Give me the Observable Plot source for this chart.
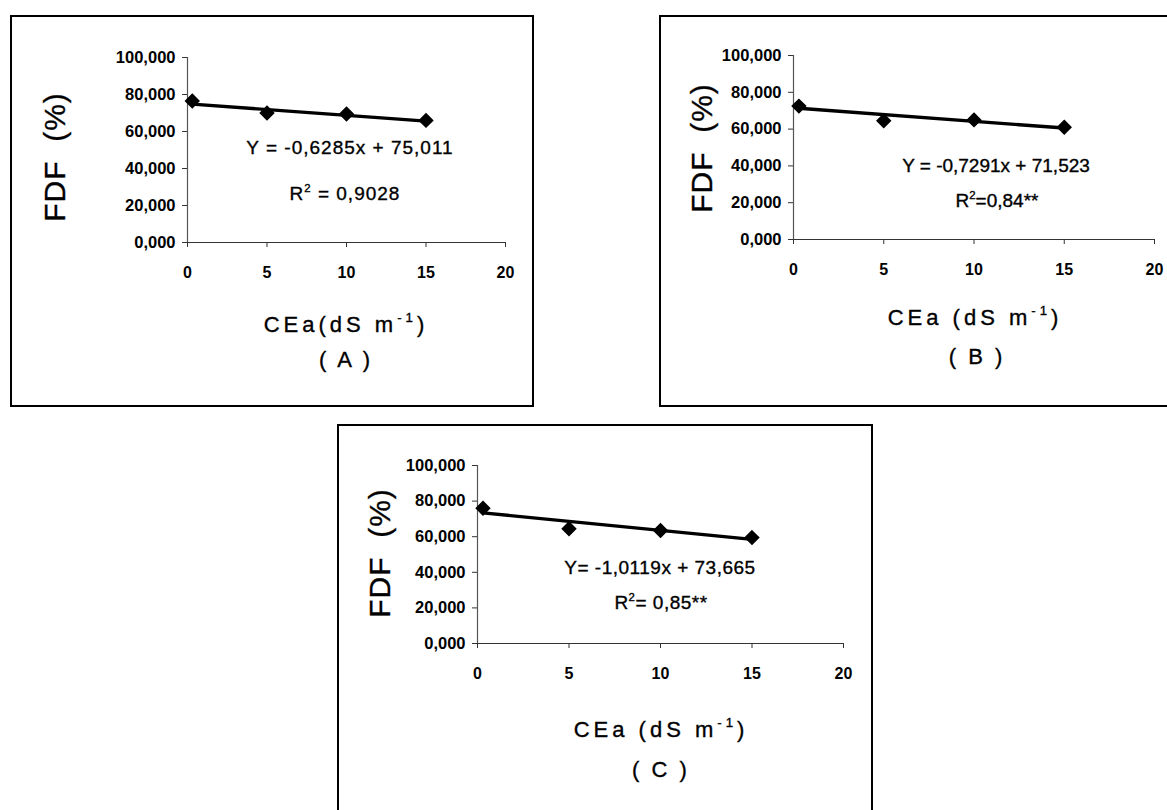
<!DOCTYPE html>
<html><head><meta charset="utf-8">
<script src="https://cdn.jsdelivr.net/npm/d3@7"></script>
<script src="https://cdn.jsdelivr.net/npm/@observablehq/plot@0.6"></script>
<style>
html,body{margin:0;padding:0;background:#fff}
body{width:1167px;height:810px;position:relative;overflow:hidden;font-family:"Liberation Sans",Arial,sans-serif;color:#000}
.box{position:absolute;box-sizing:border-box;border:2px solid #000}
.plot{position:absolute}
.lbl{position:absolute;white-space:nowrap;transform:translate(-50%,-50%);line-height:1;-webkit-text-stroke:0.35px #000}
.rot{transform:translate(-50%,-50%) rotate(-90deg)}
sup{font-size:0.6em;line-height:0;position:relative;top:-0.1em;vertical-align:super}
</style></head><body>
<script>
// ---- data ----
const ceaX = [0.3, 5, 10, 15];                 // CEa (dS m-1)
const fdfA = [76.5, 70, 69.5, 66];             // FDF (%) panel A
const fdfB = [72.5, 64.5, 65, 61];             // FDF (%) panel B
const fdfC = [76, 64.5, 63.5, 59.5];           // FDF (%) panel C
const panelNames = ["A", "B", "C"];
const slopes = [-0.6285, -0.7291, -1.0119];
const intercepts = [75.011, 71.523, 73.665];
const eqLabels = ["Y = -0,6285x + 75,011", "Y = -0,7291x + 71,523", "Y= -1,0119x + 73,665"];
const r2Labels = [" = 0,9028", "=0,84**", "= 0,85**"];
const xTicks = [0, 5, 10, 15, 20];
const yTicks = [0, 20, 40, 60, 80, 100];
const series = [fdfA, fdfB, fdfC];

// ---- layout (page positions) ----
const layout = [
  {box:{l:10,t:15,w:524,h:392}, svg:{h:392,ml:177,mr:29,mt:42,mb:165},
   fdf:[55,157], eq:[350,147], r2:[345,193], cea:[346,325], let:[346,360], eqSize:19, eqLs:1},
  {box:{l:659,t:15,w:508,h:392,noRight:true}, svg:{h:392,ml:134,mr:13,mt:40,mb:168},
   fdf:[702,148], eq:[996,165], r2:[997,200], cea:[975,318], let:[977,357], eqSize:19, eqLs:0},
  {box:{l:337,t:424,w:536,h:400,noBottom:true}, svg:{h:386,ml:140,mr:30,mt:41,mb:167},
   fdf:[380,553], eq:[660,567], r2:[661,602], cea:[661,730], let:[661,770], eqSize:19, eqLs:0.5}
];

const fmtY = d => d.toFixed(3).replace(".", ",");

function addLabel(html, pos, style, cls) {
  const d = document.createElement("div");
  d.className = "lbl" + (cls ? " " + cls : "");
  d.innerHTML = html;
  d.style.left = pos[0] + "px";
  d.style.top = pos[1] + "px";
  Object.assign(d.style, style || {});
  document.body.appendChild(d);
}

layout.forEach((L, i) => {
  const box = document.createElement("div");
  box.className = "box";
  Object.assign(box.style, {left: L.box.l + "px", top: L.box.t + "px", width: L.box.w + "px", height: L.box.h + "px"});
  if (L.box.noRight) box.style.borderRight = "none";
  if (L.box.noBottom) box.style.borderBottom = "none";
  document.body.appendChild(box);

  const pts = ceaX.map((x, j) => ({x, y: series[i][j]}));
  const ends = [ceaX[0], ceaX[ceaX.length - 1]].map(x => ({x, y: slopes[i] * x + intercepts[i]}));

  const chart = Plot.plot({
    width: L.box.w, height: L.svg.h,
    marginLeft: L.svg.ml, marginRight: L.svg.mr, marginTop: L.svg.mt, marginBottom: L.svg.mb,
    style: {fontFamily: '"Liberation Sans", Arial, sans-serif', color: "#000", background: "transparent", overflow: "visible"},
    x: {domain: [0, 20], label: null},
    y: {domain: [0, 100], label: null},
    marks: [
      Plot.axisX(xTicks, {tickSize: 5, tickPadding: 19, fontSize: 16, fontWeight: "bold", tickFormat: d => String(d), stroke: "#333", label: null}),
      Plot.axisY(yTicks, {tickSize: 5, tickPadding: 7, fontSize: 16.5, fontWeight: "bold", tickFormat: fmtY, stroke: "#333", label: null, letterSpacing: "-0.6px"}),
      Plot.ruleX([0], {stroke: "#555", strokeWidth: 1.2}),
      Plot.ruleY([0], {stroke: "#333", strokeWidth: 1.2}),
      Plot.line(ends, {x: "x", y: "y", stroke: "#000", strokeWidth: 3.4}),
      Plot.dot(pts, {x: "x", y: "y", symbol: "diamond2", r: 6, fill: "#000", stroke: "#000"})
    ]
  });
  chart.classList.add("plot");
  chart.style.left = L.box.l + "px";
  chart.style.top = L.box.t + "px";
  document.body.appendChild(chart);

  addLabel("FDF&nbsp;&nbsp;(%)", L.fdf, {fontSize: "30px", letterSpacing: "1px"}, "rot");
  addLabel(eqLabels[i], L.eq, {fontSize: L.eqSize + "px", letterSpacing: L.eqLs + "px"});
  addLabel("R<sup>2</sup>" + r2Labels[i], L.r2, {fontSize: L.eqSize + "px", letterSpacing: L.eqLs + "px"});
  addLabel("CEa" + (i === 0 ? "" : " ") + "(dS m<sup>-1</sup>)", L.cea, {fontSize: "22px", letterSpacing: "4px"});
  addLabel("( " + panelNames[i] + " )", L.let, {fontSize: "22px", letterSpacing: "3px"});
});
</script>
</body></html>
